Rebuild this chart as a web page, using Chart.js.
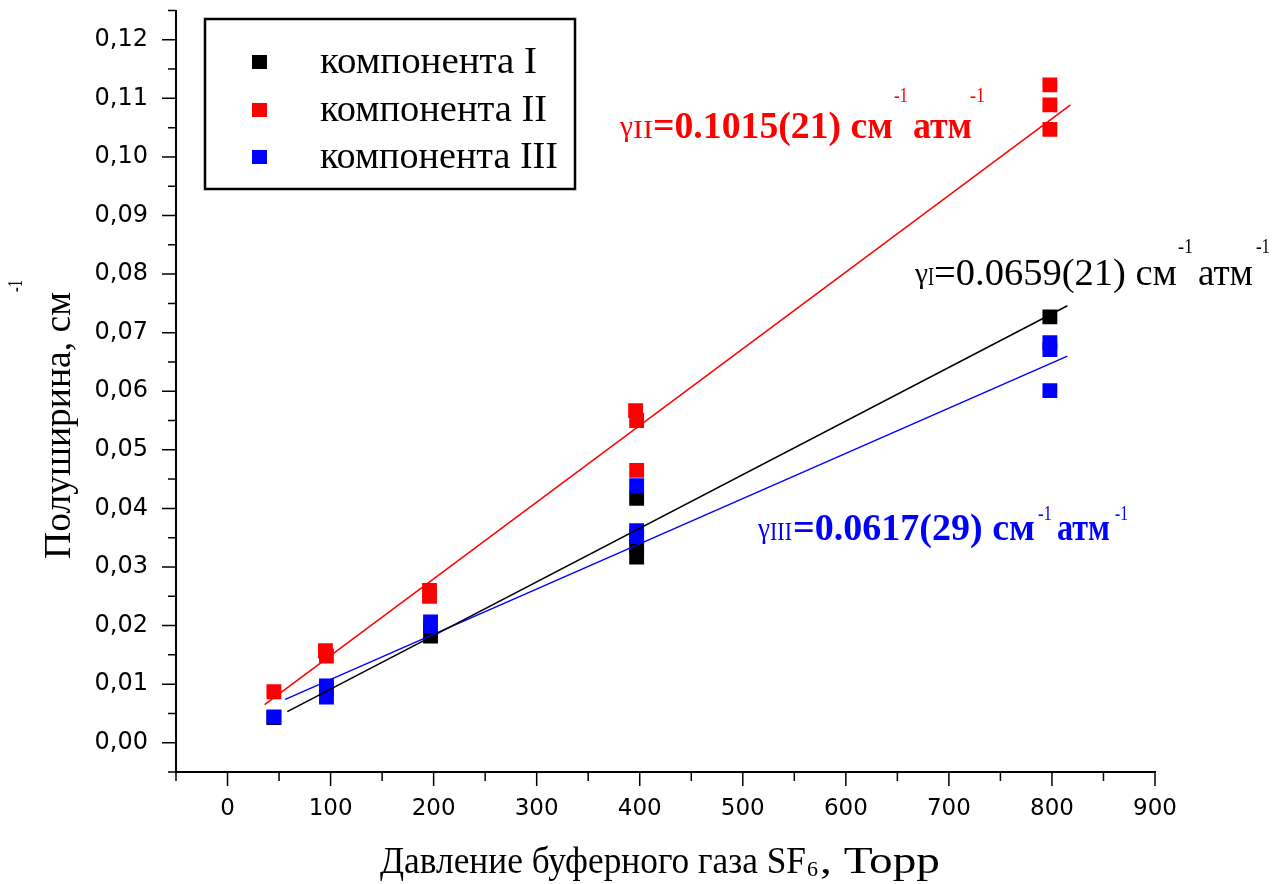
<!DOCTYPE html>
<html>
<head>
<meta charset="utf-8">
<script src="https://cdn.jsdelivr.net/npm/chart.js@4.4.0/dist/chart.umd.min.js"></script>
<style>
  html, body { margin: 0; padding: 0; background: #fff; }
  canvas { display: block; }
</style>
</head>
<body>
<canvas id="plot" width="1278" height="884"></canvas>
<script>
// linewidths of the three components vs SF6 buffer pressure
const pressI = [45, 96, 197, 397, 397, 397, 798];
const widthI = [0.0043, 0.0092, 0.0182, 0.0417, 0.0335, 0.0317, 0.0727];

const pressII = [45, 95, 96, 196, 196, 396, 397, 397, 798, 798, 798];
const widthII = [0.0087, 0.0157, 0.0148, 0.0260, 0.0250, 0.0567, 0.0550, 0.0465, 0.1123, 0.1089, 0.1047];

const pressIII = [45, 96, 96, 197, 197, 397, 397, 397, 798, 798, 798];
const widthIII = [0.0044, 0.0097, 0.0078, 0.0206, 0.0199, 0.0439, 0.0362, 0.0352, 0.0683, 0.0671, 0.0601];

// linear fit segments (ends)
const fitIX = [58, 815];
const fitIY = [0.0053, 0.0746];
const fitIIX = [36, 818];
const fitIIY = [0.0065, 0.1089];
const fitIIIX = [56, 815];
const fitIIIY = [0.0074, 0.0660];

const seriesNames = ['компонента I', 'компонента II', 'компонента III'];
const seriesColors = ['#000000', '#ff0000', '#0000ff'];

const xMajor = [0, 100, 200, 300, 400, 500, 600, 700, 800, 900];
const xMinor = [-50, 50, 150, 250, 350, 450, 550, 650, 750, 850];
const yMajor = [0, 0.01, 0.02, 0.03, 0.04, 0.05, 0.06, 0.07, 0.08, 0.09, 0.10, 0.11, 0.12];
const yMinor = [-0.005, 0.005, 0.015, 0.025, 0.035, 0.045, 0.055, 0.065, 0.075, 0.085, 0.095, 0.105, 0.115, 0.125];

const SERIF = "'Liberation Serif', 'Times New Roman', serif";

function pts(xs, ys) {
  return xs.map((x, i) => ({ x: x, y: ys[i] }));
}

// draws a string stretched to span x0..x1
function span(ctx, str, x0, x1, base, font) {
  ctx.font = font;
  const w = ctx.measureText(str).width;
  ctx.save();
  ctx.translate(x0, base);
  ctx.scale((x1 - x0) / w, 1);
  ctx.fillText(str, 0, 0);
  ctx.restore();
}

const decorations = {
  id: 'decorations',
  afterDraw(chart) {
    const ctx = chart.ctx;
    const xs = chart.scales.x;
    const ys = chart.scales.y;
    const ax = chart.chartArea.left;
    const ay = chart.chartArea.bottom;

    // outward tick marks
    ctx.save();
    ctx.strokeStyle = '#000';
    ctx.lineWidth = 1.5;
    ctx.beginPath();
    yMajor.forEach(v => {
      const p = ys.getPixelForValue(v);
      ctx.moveTo(ax - 14, p); ctx.lineTo(ax, p);
    });
    yMinor.forEach(v => {
      const p = ys.getPixelForValue(v);
      ctx.moveTo(ax - 8, p); ctx.lineTo(ax, p);
    });
    xMajor.forEach(v => {
      const p = xs.getPixelForValue(v);
      ctx.moveTo(p, ay); ctx.lineTo(p, ay + 14);
    });
    xMinor.forEach(v => {
      const p = xs.getPixelForValue(v);
      ctx.moveTo(p, ay); ctx.lineTo(p, ay + 9);
    });
    ctx.stroke();

    // legend box
    ctx.lineWidth = 2.5;
    ctx.strokeRect(205, 19, 370, 170);
    const rows = [62, 110, 157];
    const ends = [537, 547, 558];
    ctx.textBaseline = 'alphabetic';
    seriesNames.forEach((name, i) => {
      ctx.fillStyle = seriesColors[i];
      ctx.fillRect(252, rows[i] - 7, 15, 14);
      ctx.fillStyle = '#000';
      span(ctx, name, 320, ends[i], rows[i] + 11, '38px ' + SERIF);
    });

    // fit results
    ctx.fillStyle = '#ff0000';
    span(ctx, 'γ', 620, 633, 136, '30px ' + SERIF);
    span(ctx, 'II', 633, 653, 138, '26px ' + SERIF);
    span(ctx, '=0.1015(21) см', 653, 893, 138, 'bold 38px ' + SERIF);
    span(ctx, '-1', 894, 908, 102, '20px ' + SERIF);
    span(ctx, 'атм', 913, 972, 138, 'bold 38px ' + SERIF);
    span(ctx, '-1', 970, 985, 102, '20px ' + SERIF);

    ctx.fillStyle = '#000000';
    span(ctx, 'γ', 915, 928, 283, '30px ' + SERIF);
    span(ctx, 'I', 928, 934, 285, '26px ' + SERIF);
    span(ctx, '=0.0659(21) см', 934, 1177, 285, '38px ' + SERIF);
    span(ctx, '-1', 1178, 1193, 253, '20px ' + SERIF);
    span(ctx, 'атм', 1198, 1253, 285, '38px ' + SERIF);
    span(ctx, '-1', 1256, 1270, 253, '20px ' + SERIF);

    ctx.fillStyle = '#0000ff';
    span(ctx, 'γ', 758, 770, 538, '30px ' + SERIF);
    span(ctx, 'III', 770, 792, 540, '26px ' + SERIF);
    span(ctx, '=0.0617(29) см', 793, 1035, 540, 'bold 38px ' + SERIF);
    span(ctx, '-1', 1038, 1052, 520, '20px ' + SERIF);
    span(ctx, 'атм', 1057, 1110, 540, 'bold 38px ' + SERIF);
    span(ctx, '-1', 1115, 1128, 520, '20px ' + SERIF);

    // axis titles
    ctx.fillStyle = '#000';
    span(ctx, 'Давление буферного газа SF', 380, 806, 873, '38px ' + SERIF);
    span(ctx, '6', 807, 818, 876, '22px ' + SERIF);
    span(ctx, ', Торр', 820, 940, 873, '38px ' + SERIF);

    ctx.save();
    ctx.translate(70, 418);
    ctx.rotate(-Math.PI / 2);
    span(ctx, 'Полуширина, см', -141, 126, 0, '38px ' + SERIF);
    span(ctx, '-1', 126, 138, -48, '20px ' + SERIF);
    ctx.restore();

    ctx.restore();
  }
};

function fitSet(xs, ys, color) {
  return {
    type: 'line',
    data: pts(xs, ys),
    borderColor: color,
    borderWidth: 1.5,
    pointRadius: 0,
    fill: false,
    order: 0
  };
}

function pointSet(name, xs, ys, color, order) {
  return {
    label: name,
    data: pts(xs, ys),
    pointStyle: 'rect',
    pointRadius: 10.5,
    pointBackgroundColor: color,
    pointBorderWidth: 0,
    borderColor: color,
    order: order
  };
}

new Chart(document.getElementById('plot'), {
  type: 'scatter',
  data: {
    datasets: [
      fitSet(fitIX, fitIY, seriesColors[0]),
      fitSet(fitIIX, fitIIY, seriesColors[1]),
      fitSet(fitIIIX, fitIIIY, seriesColors[2]),
      pointSet(seriesNames[0], pressI, widthI, seriesColors[0], 3),
      pointSet(seriesNames[1], pressII, widthII, seriesColors[1], 2),
      pointSet(seriesNames[2], pressIII, widthIII, seriesColors[2], 1)
    ]
  },
  options: {
    responsive: false,
    animation: false,
    devicePixelRatio: 1,
    layout: { padding: { left: 0, top: 9, right: 123, bottom: 0 } },
    plugins: {
      legend: { display: false },
      tooltip: { enabled: false }
    },
    scales: {
      x: {
        type: 'linear',
        min: -50,
        max: 900,
        afterBuildTicks: (scale) => { scale.ticks = xMajor.map(v => ({ value: v })); },
        afterFit: (scale) => {
          scale.height = 884 - 772;
          scale.paddingLeft = 0;
          scale.paddingRight = 0;
        },
        grid: { display: false, drawTicks: false },
        border: { display: true, color: '#000', width: 2 },
        ticks: {
          color: '#000',
          padding: 23,
          maxRotation: 0,
          font: { family: "'DejaVu Sans', sans-serif", size: 23 },
          callback: (v) => String(v)
        }
      },
      y: {
        type: 'linear',
        min: -0.005,
        max: 0.125,
        afterBuildTicks: (scale) => { scale.ticks = yMajor.map(v => ({ value: v })); },
        afterFit: (scale) => {
          scale.width = 176;
          scale.paddingTop = 0;
          scale.paddingBottom = 0;
        },
        grid: { display: false, drawTicks: false },
        border: { display: true, color: '#000', width: 2 },
        ticks: {
          color: '#000',
          padding: 28,
          font: { family: "'DejaVu Sans', sans-serif", size: 24 },
          callback: (v) => v.toFixed(2).replace('.', ',')
        }
      }
    }
  },
  plugins: [decorations]
});
</script>
</body>
</html>
